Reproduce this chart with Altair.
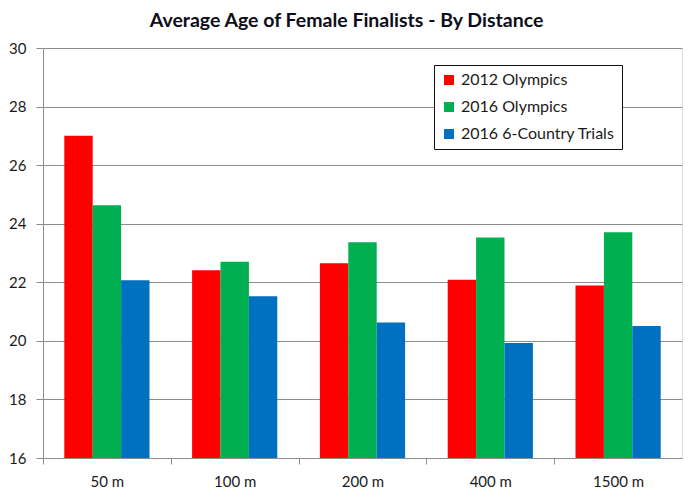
import altair as alt
import pandas as pd

distances = ["50 m", "100 m", "200 m", "400 m", "1500 m"]
series = ["2012 Olympics", "2016 Olympics", "2016 6-Country Trials"]
olympics_2012 = [27.0, 22.41, 22.65, 22.09, 21.89]
olympics_2016 = [24.63, 22.70, 23.37, 23.53, 23.71]
trials_2016 = [22.07, 21.52, 20.63, 19.93, 20.51]
colors = ["#FF0000", "#00B050", "#0070C0"]
y_ticks = [16, 18, 20, 22, 24, 26, 28, 30]
y_min, y_max = 16, 30

rows = []
for name, vals in zip(series, [olympics_2012, olympics_2016, trials_2016]):
    for d, v in zip(distances, vals):
        rows.append({"distance": d, "series": name, "age": v})
df = pd.DataFrame(rows)

FONT = "Lato"
W, H = 639, 410
step = W / 5.0

chart = alt.Chart(df).mark_bar().encode(
    x=alt.X(
        "distance:N",
        sort=distances,
        scale=alt.Scale(paddingInner=1/3, paddingOuter=1/6),
        axis=alt.Axis(
            title=None,
            labelAngle=0,
            labelFont=FONT,
            labelFontSize=15,
            labelColor="#1a1a1a",
            labelPadding=10,
            tickOffset=-step / 2,
            labelOffset=step / 2,
            tickSize=6,
            tickColor="#8c8c8c",
            domainColor="#8c8c8c",
            grid=False,
        ),
    ),
    xOffset=alt.XOffset("series:N", sort=series, scale=alt.Scale(paddingInner=0, paddingOuter=0)),
    y=alt.Y(
        "age:Q",
        scale=alt.Scale(domain=[y_min, y_max], nice=False, zero=False),
        axis=alt.Axis(
            title=None,
            values=y_ticks,
            labelFont=FONT,
            labelFontSize=15,
            labelColor="#1a1a1a",
            labelPadding=10,
            tickSize=7,
            tickColor="#8c8c8c",
            domainColor="#8c8c8c",
            gridColor="#8c8c8c",
            gridWidth=1,
        ),
    ),
    y2=alt.datum(y_min),
    color=alt.Color(
        "series:N",
        sort=series,
        scale=alt.Scale(domain=series, range=colors),
        legend=alt.Legend(
            title=None,
            orient="none",
            legendX=391,
            legendY=17,
            symbolType="square",
            symbolSize=100,
            symbolStrokeWidth=0,
            labelFont=FONT,
            labelFontSize=16,
            labelColor="#1a1a1a",
            labelOffset=4,
            rowPadding=11,
            padding=7,
            strokeColor="#111111",
            fillColor="white",
            cornerRadius=0,
        ),
    ),
).properties(
    width=W,
    height=H,
    title=alt.Title(
        "Average Age of Female Finalists - By Distance",
        font=FONT,
        fontSize=19.5,
        fontWeight="bold",
        color="#0d0d1a",
        anchor="middle",
        frame="group",
        dx=-16,
        dy=21,
        baseline="alphabetic",
        offset=16,
    ),
    autosize=alt.AutoSizeParams(type="none"),
    padding={"left": 35, "top": 40, "right": 10, "bottom": 34},
).configure_view(
    stroke="#1a1a2a",
    strokeWidth=1.5,
).configure(background="white")

chart.save("out.html", embed_options={"renderer": "svg", "actions": False})
